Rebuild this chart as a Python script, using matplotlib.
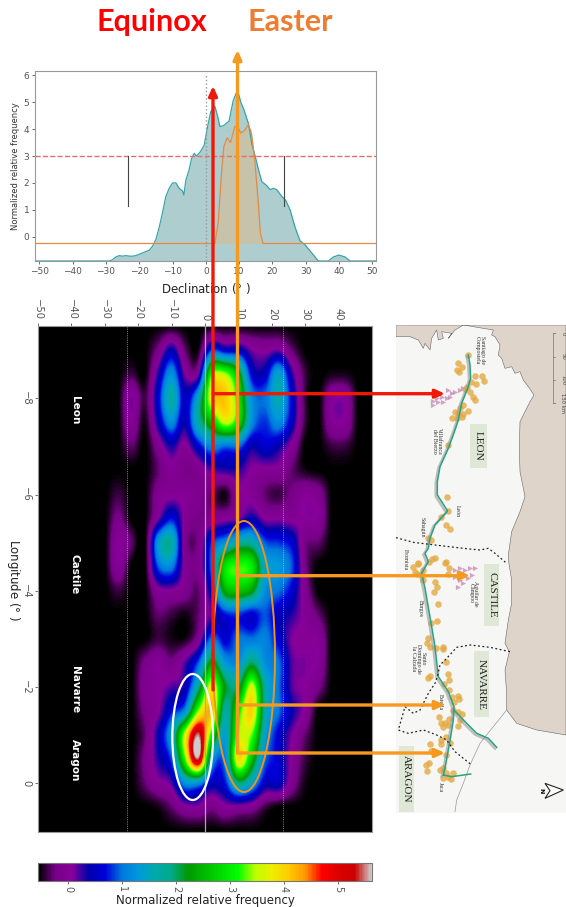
import numpy as np
import matplotlib
matplotlib.use("Agg")
import matplotlib.pyplot as plt
from matplotlib.patches import Ellipse, Rectangle, Polygon

W, H = 566, 907

# ====================================
# LINE PANEL DATA
# ====================================

dec_all = [-51.3, -29, -28, -27, -26, -25, -24, -23, -22, -21, -20, -19, -18, -17, -16, -15, -14, -13, -12, -11,
           -10, -9, -8, -7, -6.6, -6, -5, -4.3, -3.5, -2.8, -1.7, -0.5, 0.7, 1.5, 2.7, 3.5, 4.2, 5.2, 7, 8.2,
           9.5, 10.5, 11.5, 12.8, 13.8, 14.8, 15.8, 16.8, 18.3, 19.3, 20.3, 21.3, 22.8, 24, 25.3, 26.8, 28.3,
           29.8, 31.8, 33.8, 36.8, 38.3, 40, 41.8, 43.3, 51.1]
freq_all = [-0.9, -0.9, -0.85, -0.75, -0.7, -0.72, -0.7, -0.72, -0.72, -0.7, -0.65, -0.6, -0.55, -0.5, -0.35, -0.1,
            0.35, 0.9, 1.5, 1.8, 2.0, 2.0, 1.8, 1.7, 1.55, 2.1, 2.5, 2.9, 3.1, 3.0, 3.15, 3.4, 4.2, 4.65, 4.85,
            4.5, 4.1, 4.12, 4.3, 5.05, 5.45, 5.0, 4.7, 4.2, 3.45, 3.0, 2.5, 2.05, 1.9, 1.75, 1.8, 1.75, 1.5,
            1.35, 1.0, 0.35, -0.15, -0.3, -0.6, -0.9, -0.9, -0.75, -0.68, -0.75, -0.9, -0.9]

dec_easter = [-51.3, 2.7, 3.7, 4.7, 5.4, 6.4, 7.4, 8.7, 9.5, 10.5, 11.7, 12.8, 13.7, 14.7, 15.7, 16.4, 17.2, 51.1]
freq_easter = [-0.25, -0.25, 0.5, 2.35, 3.35, 3.68, 3.5, 4.1, 4.12, 3.85, 3.96, 4.17, 3.85, 2.85, 1.35, 0.12, -0.25, -0.25]

dec_ticks = [-50, -40, -30, -20, -10, 0, 10, 20, 30, 40, 50]

# ====================================
# HEATMAP DATA
# ====================================

lon_rows = [-9, -8.5, -8, -7.5, -7, -6.5, -6, -5.5, -5, -4.5, -4, -3.5, -3, -2.5, -2, -1.5, -1, -0.5, 0, 0.5]
dec_cols = [-30, -26, -22, -18, -14, -10, -6, -2, 2, 6, 10, 14, 18, 22, 26, 30, 34, 38, 42]
B = -0.56

heat = [
    [B, B, B, B, -0.2, 0.4, -0.3, -0.5, 0.8, 0.5, 0.5, 0.1, 0.0, 0.1, -0.3, B, B, B, B],
    [B, B, -0.4, B, 0.3, 1.2, 0.1, 0.1, 3.2, 3.4, 2.4, 0.6, 0.5, 1.4, 0.3, -0.4, B, -0.5, -0.5],
    [B, B, 0.1, -0.4, 0.6, 1.7, 0.5, 1.5, 3.8, 4.1, 3.0, 1.2, 1.0, 1.6, 0.6, -0.4, B, 0.0, 0.0],
    [B, B, 0.0, -0.5, 0.4, 1.2, 0.4, 1.7, 2.6, 3.6, 2.9, 1.2, 0.8, 1.2, 0.5, -0.4, B, 0.0, 0.0],
    [B, B, -0.3, B, -0.1, 0.35, 0.0, 0.6, 1.2, 1.0, 1.0, 0.4, 0.6, 0.4, 0.0, B, B, -0.4, -0.4],
    [B, B, B, B, -0.3, 0.0, -0.2, -0.1, 0.2, 0.3, 0.3, 0.05, 0.0, 0.0, -0.3, -0.5, B, B, B],
    [B, -0.4, B, B, -0.1, 0.0, 0.0, -0.1, -0.3, -0.5, 0.0, 0.0, -0.3, -0.4, -0.2, 0.0, -0.1, B, B],
    [B, -0.2, B, B, 0.1, 0.7, 0.0, -0.2, -0.1, 0.0, 0.1, 0.4, 0.05, 0.05, 0.0, 0.05, 0.0, B, B],
    [B, 0.05, -0.3, B, 1.3, 1.7, -0.1, -0.2, 0.8, 1.2, 1.7, 1.7, 0.9, 0.8, 0.6, -0.2, -0.3, B, B],
    [B, 0.0, B, B, 0.9, 1.1, 0.0, -0.1, 1.0, 2.9, 3.2, 3.0, 1.5, 1.3, 0.9, -0.2, B, B, B],
    [B, -0.4, B, B, 0.0, 0.05, -0.1, -0.3, 0.6, 2.4, 2.6, 2.3, 1.2, 1.0, 0.6, -0.1, B, B, B],
    [B, B, B, B, -0.3, -0.4, -0.5, -0.3, 0.2, 0.7, 0.8, 0.6, 0.9, 0.5, 0.3, 0.0, -0.3, B, B],
    [B, B, B, B, -0.4, -0.5, -0.5, -0.1, 1.0, 0.6, 1.0, 1.0, 1.1, 0.6, 0.1, 0.0, 0.0, B, B],
    [B, B, B, -0.2, 0.0, -0.2, 0.2, 0.9, 2.3, 1.3, 1.2, 2.0, 1.2, 1.0, 0.2, 0.1, 0.0, B, B],
    [B, B, B, -0.1, 0.0, 0.2, 0.4, 1.8, 3.7, 2.2, 2.0, 3.6, 1.7, 1.0, 0.2, 0.05, -0.2, B, B],
    [B, B, B, -0.2, 0.05, 0.7, 1.2, 3.4, 4.2, 1.7, 3.0, 4.0, 1.7, 1.0, 0.4, 0.0, B, B, B],
    [B, B, B, -0.3, 0.4, 1.4, 3.6, 5.5, 3.0, 1.4, 3.4, 3.3, 1.4, 0.6, 0.1, -0.3, B, B, B],
    [B, B, B, -0.2, 0.3, 0.9, 3.2, 5.4, 1.5, 1.1, 3.9, 2.6, 1.0, 0.6, 0.0, -0.4, B, B, B],
    [B, B, B, -0.3, 0.0, 0.2, 1.2, 1.2, 0.5, 0.7, 1.9, 1.4, 0.5, 0.5, -0.1, -0.5, B, B, B],
    [B, B, B, B, -0.5, -0.3, 0.0, 0.05, -0.2, 0.0, 0.0, -0.1, -0.4, B, B, B, B, B, B],
]

lon_ticks = [-8, -6, -4, -2, 0]
top_ticks = [-50, -40, -30, -20, -10, 0, 10, 20, 30, 40]
cbar_ticks = [0, 1, 2, 3, 4, 5]
kingdoms = ["Leon", "Castile", "Navarre", "Aragon"]
kingdom_lon = [-7.75, -4.35, -1.95, -0.48]

# ====================================
# MAP DATA (map sheet units)
# ====================================

sea_x = [48, 90, 115, 130, 135, 150, 155, 170, 175, 190, 185, 215, 205, 225, 250, 340, 335, 345, 360, 355, 365, 375,
         395, 405, 420, 430, 445, 462, 450, 420, 418, 420, 435, 420, 395, 385, 385,
         395, 395, 385, 375, 388, 375, 380, 380, 410, 470, 558, 558, 48]
sea_y = [65, 65, 75, 100, 85, 105, 70, 45, 75, 70, 50, 55, 70, 45, 30, 45, 60, 65, 90, 120, 130, 160,
         155, 175, 170, 195, 215, 240, 260, 320, 400, 470, 545, 590, 650, 720, 735,
         795, 865, 915, 985, 1010, 1065, 1135, 1185, 1225, 1245, 1260, 30, 30]

route_x = [265, 270, 272, 265, 255, 245, 235, 225, 205, 180, 172, 172, 203, 165, 150, 145, 135, 145, 125, 135, 155,
           165, 175, 205, 222, 220, 212, 205, 195, 190]
route_y = [120, 150, 190, 215, 240, 265, 315, 345, 400, 455, 500, 540, 588, 630, 670, 700, 715, 740, 775, 820, 935,
           995, 1085, 1130, 1175, 1215, 1265, 1305, 1360, 1380]
branch_a_x = [222, 260, 290, 325, 350]
branch_a_y = [1185, 1225, 1255, 1270, 1297]
branch_b_x = [190, 215, 272]
branch_b_y = [1380, 1385, 1377]

site_x = [265, 235, 247, 232, 237, 286, 306, 311, 287, 272, 262, 255, 270, 280, 285, 250, 240, 265, 225, 250, 235, 215,
          232, 245, 203, 200, 203, 182, 197, 209, 145, 153, 146, 165, 155, 198, 115, 195, 208, 100, 115, 130, 105, 112,
          128, 125, 205, 165, 172, 162, 173, 172, 153, 143, 140, 150, 168, 188, 190, 198, 205, 207, 150, 145, 193, 208,
          215, 235, 238, 222, 220, 235, 245, 240, 233, 208, 195, 205, 183, 178, 190, 197, 182, 210, 184, 150, 152, 198,
          148, 138, 142, 180, 188, 198, 190, 205, 220, 212]
site_y = [120, 143, 155, 165, 172, 183, 184, 198, 207, 200, 215, 222, 232, 245, 255, 270, 280, 288, 290, 298, 295, 308,
          310, 307, 391, 547, 588, 605, 630, 642, 670, 675, 740, 728, 733, 742, 745, 743, 760, 757, 747, 765, 770, 777,
          795, 780, 777, 800, 817, 830, 867, 917, 923, 968, 985, 995, 1000, 997, 1002, 1040, 1078, 1095, 1083, 1088,
          1108, 1125, 1145, 1143, 1153, 1160, 1185, 1190, 1197, 1215, 1233, 1213, 1225, 1230, 1225, 1207, 1235, 1265,
          1275, 1283, 1288, 1287, 1307, 1320, 1343, 1350, 1369, 1365, 1360, 1375, 1390, 1385, 1373, 1393]

rock_x = [160, 175, 190, 170, 185, 200, 205, 215, 225, 240, 250, 210, 160, 225, 240, 255, 270, 285, 225, 240, 250, 235,
          265, 275, 255, 245]
rock_y = [270, 262, 260, 250, 245, 250, 225, 235, 230, 225, 220, 245, 258, 765, 760, 765, 760, 760, 785, 795, 805, 815,
          790, 780, 780, 775]

border_a_x = [48, 100, 165, 250, 300, 325, 345, 380]
border_a_y = [668, 682, 690, 700, 705, 700, 715, 745]
border_b_x = [390, 330, 270, 230, 200, 180, 172, 165, 145, 120, 100, 75, 55, 85, 130, 170, 200, 225, 275]
border_b_y = [1010, 997, 990, 997, 1030, 1050, 1085, 1105, 1135, 1185, 1195, 1175, 1245, 1255, 1245, 1260, 1275, 1310, 1350]
france_x = [380, 300, 270, 250, 230, 225]
france_y = [1185, 1285, 1350, 1405, 1455, 1490]

regions = ["LEON", "CASTILE", "NAVARRE", "ARAGON"]
region_box = [(270, 327, 52, 131), (312, 747, 46, 186), (282, 1008, 46, 199), (57, 1293, 46, 198)]

town_names = ["Santiago de\nCompostela", "Villafranca\ndel Bierzo", "León", "Sahagún", "Fromista", "Burgos",
              "Santo\nDomingo de\nla Calzada", "Estella", "Jaca", "Aguilar de\nCampoo"]
town_x = [300, 170, 232, 127, 75, 122, 115, 182, 182, 280]
town_y = [105, 378, 588, 638, 735, 880, 1032, 1160, 1415, 835]


# convert reference pixels to figure fractions
def px_rect(x0, y0, x1, y1):
    return [x0 / W, 1 - y1 / H, (x1 - x0) / W, (y1 - y0) / H]


fig = plt.figure(figsize=(W / 100, H / 100), dpi=100)
grey = "#555555"

# ====================================
# LINE PANEL
# ====================================

ax = fig.add_axes(px_rect(35, 70.7, 376, 261))
ax.fill_between(dec_all, -0.9, freq_all, color="#aecdcf", lw=0)
ax.plot(dec_all, freq_all, color="#35a5a8", lw=0.9)
ax.fill_between(dec_easter, -0.25, freq_easter, color="#c7c2aa", lw=0)
ax.plot(dec_easter, freq_easter, color="#e58a45", lw=0.9)
ax.axhline(3, color="#e07070", ls="--", lw=1)
ax.plot([-23.5, -23.5], [1.15, 3], color="#444444", lw=0.8)
ax.plot([23.5, 23.5], [1.15, 3], color="#444444", lw=0.8)
ax.plot([0, 0], [-0.9, 6], color="#999999", ls=":", lw=1)
ax.set_xlim(-51.3, 51.1)
ax.set_ylim(-0.9, 6.17)
ax.set_xticks(dec_ticks)
ax.set_yticks(range(0, 7))
ax.tick_params(labelsize=6.5, length=2, width=0.6, colors=grey, pad=2)
ax.set_ylabel("Normalized relative frequency", fontsize=6, color="#333333", labelpad=3)
ax.set_xlabel("Declination ($\\degree$ )", fontsize=8.5, color="#222222", labelpad=4)
for s in ax.spines.values():
    s.set_color("#999999")

# ====================================
# HEATMAP
# ====================================

hx = fig.add_axes(px_rect(38, 325.7, 372, 832))
grid = np.pad(np.array(heat), ((1, 1), (5, 3)), constant_values=B)
dec_step = dec_cols[1] - dec_cols[0]
lon_step = lon_rows[1] - lon_rows[0]
extent = (dec_cols[0] - 5.5 * dec_step, dec_cols[-1] + 3.5 * dec_step,
          lon_rows[-1] + 1.5 * lon_step, lon_rows[0] - 1.5 * lon_step)
im = hx.imshow(grid, cmap="nipy_spectral", vmin=-0.56, vmax=5.63, extent=extent,
               interpolation="catrom", aspect="auto")
hx.axvline(0, color="#aaaaaa", lw=0.9)
hx.axvline(-23.5, color="#dddddd", ls=":", lw=0.5)
hx.axvline(23.5, color="#dddddd", ls=":", lw=0.5)
hx.set_xlim(-50, 50)
hx.set_ylim(1.01, -9.51)
hx.xaxis.tick_top()
hx.set_xticks(top_ticks)
hx.set_yticks(lon_ticks)
hx.tick_params(axis="x", labelsize=7.2, length=2, width=0.6, colors=grey, labelrotation=-90, pad=2)
hx.tick_params(axis="y", labelsize=7.2, length=2, width=0.6, colors=grey, labelrotation=-90, pad=3)
for lab in hx.get_yticklabels():
    lab.set_va("center")
hx.set_ylabel("Longitude ($\\degree$ )", fontsize=8.5, rotation=-90, color="#222222", va="center")
hx.yaxis.set_label_coords(-0.072, 0.498)
for s in hx.spines.values():
    s.set_color("#999999")
for name, lon in zip(kingdoms, kingdom_lon):
    hx.text(-39, lon, name, color="white", fontsize=7.5, fontweight="bold",
            rotation=-90, ha="center", va="center")

cax = fig.add_axes(px_rect(38, 863, 372, 880.7))
cb = fig.colorbar(im, cax=cax, orientation="horizontal")
cb.set_ticks(cbar_ticks)
cb.ax.tick_params(labelsize=7, length=2, width=0.6, colors=grey, labelrotation=-90, pad=2)
cb.set_label("Normalized relative frequency", fontsize=8.5, color="#222222", labelpad=1)
cb.outline.set_edgecolor("#777777")

# ====================================
# MAP
# ====================================

mx = fig.add_axes(px_rect(396, 325, 566, 813))
mx.set_xlim(48, 558)
mx.set_ylim(1494, 30)
mx.axis("off")
mx.add_patch(Rectangle((48, 30), 510, 1464, color="#f6f6f5", lw=0))
mx.add_patch(Polygon(np.column_stack([sea_x, sea_y]), closed=True, fc="#dfd4c9", ec="#666666", lw=0.4))
mx.plot(france_x, france_y, color="#999999", lw=0.5)
mx.plot(np.array(route_x) - 5, np.array(route_y) + 4, color="#999999", lw=1.8, alpha=0.6)
mx.plot(np.array(branch_a_x) - 5, np.array(branch_a_y) + 4, color="#999999", lw=1.8, alpha=0.6)
mx.plot(route_x, route_y, color="#2aa27f", lw=1.1)
mx.plot(branch_a_x, branch_a_y, color="#2aa27f", lw=1.1)
mx.plot(branch_b_x, branch_b_y, color="#2aa27f", lw=1.1)
mx.plot(border_a_x, border_a_y, color="#222222", ls=(0, (1.5, 2)), lw=0.9)
mx.plot(border_b_x, border_b_y, color="#222222", ls=(0, (1.5, 2)), lw=0.9)
mx.scatter(rock_x, rock_y, marker=">", s=14, color="#bd78ad", alpha=0.65, lw=0)
mx.scatter(site_x, site_y, s=22, color="#e4a941", alpha=0.8, lw=0)
for name, box in zip(regions, region_box):
    mx.add_patch(Rectangle(box[:2], box[2], box[3], color="#dfe7d6", lw=0))
    mx.text(box[0] + box[2] / 2, box[1] + box[3] / 2, name, fontsize=8, family="Liberation Serif",
            rotation=-90, ha="center", va="center", color="#222222")
for name, x, y in zip(town_names, town_x, town_y):
    mx.text(x, y, name, fontsize=4.2, family="Liberation Serif", rotation=-90, ha="center", va="center",
            ma="center", color="#333333", linespacing=1)
mx.plot([525, 520, 520, 525], [55, 55, 265, 265], color="#777777", lw=0.5)
for km, y in zip(["0", "50", "100", "150 km"], [55, 125, 195, 265]):
    mx.plot([520, 525], [y, y], color="#777777", lw=0.5)
    mx.text(548, y, km, fontsize=3.8, rotation=-90, ha="center", va="center", color="#444444")
mx.add_patch(Polygon([(495, 1405), (550, 1425), (495, 1450), (510, 1427)], closed=True,
                     fc="white", ec="#222222", lw=0.8))
mx.text(483, 1427, "N", fontsize=4.5, fontweight="bold", rotation=-90, ha="center", va="center")

# ====================================
# OVERLAY
# ====================================

ox = fig.add_axes([0, 0, 1, 1])
ox.set_xlim(0, W)
ox.set_ylim(H, 0)
ox.axis("off")
ox.patch.set_alpha(0)

red = "#f01808"
orange = "#f59a1e"
ox.add_patch(Ellipse((192.7, 737), 40.7, 126, fc="none", ec="white", lw=1.6))
ox.add_patch(Ellipse((244, 656.5), 62, 271, fc="none", ec="#e8951e", lw=1.4))


def arrow(x0, y0, x1, y1, color):
    ox.annotate("", xy=(x1, y1), xytext=(x0, y0),
                arrowprops=dict(arrowstyle="-|>,head_length=0.55,head_width=0.25", color=color, lw=2.4,
                                shrinkA=0, shrinkB=0))


arrow(213, 690, 213, 86, red)
arrow(213, 393.7, 445, 393.7, red)
arrow(237.5, 753, 237.5, 50, orange)
arrow(237.5, 575.7, 470, 575.7, orange)
arrow(237.5, 705, 445, 705, orange)
arrow(237.5, 753, 445, 753, orange)

ox.text(152, 22, "Equinox", color="#ff0000", fontsize=22, fontweight="bold", family="Lato", ha="center", va="center")
ox.text(290, 22, "Easter", color="#ed7d31", fontsize=22, fontweight="bold", family="Lato", ha="center", va="center")

plt.savefig("out.png", dpi=100)
